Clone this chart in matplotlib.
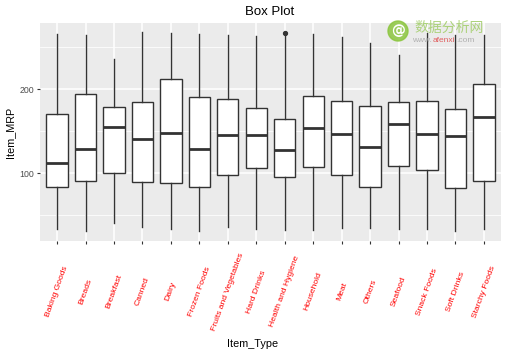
import matplotlib
matplotlib.use("Agg")
import matplotlib.pyplot as plt
from matplotlib.patches import Ellipse

categories = ["Baking Goods", "Breads", "Breakfast", "Canned", "Dairy", "Frozen Foods",
              "Fruits and Vegetables", "Hard Drinks", "Health and Hygiene", "Household",
              "Meat", "Others", "Seafood", "Snack Foods", "Soft Drinks", "Starchy Foods"]
whisker_low = [34.1, 31.7, 40.5, 36.5, 34.1, 31.7, 36.5, 34.1, 32.5, 32.5, 35.3, 35.3, 34.1, 34.1, 31.7, 34.1]
q1 = [83.3, 90.5, 100.0, 89.3, 88.5, 83.3, 98.0, 106.0, 95.2, 107.1, 98.0, 83.3, 108.3, 103.6, 82.1, 90.5]
median = [112.3, 129.4, 155.6, 141.3, 148.4, 129.4, 146.0, 146.0, 128.2, 154.4, 147.2, 131.7, 158.7, 147.2, 144.8, 167.5]
q3 = [171.0, 194.8, 178.6, 184.5, 212.7, 190.5, 188.1, 177.4, 164.3, 191.7, 185.7, 179.8, 184.5, 185.7, 176.2, 206.0]
whisker_high = [265.9, 264.7, 235.7, 267.9, 266.7, 265.9, 264.7, 262.7, 264.8, 265.9, 261.9, 254.8, 240.9, 266.7, 264.7, 263.9]
outliers = [[], [], [], [], [], [], [], [], [266.9], [], [], [], [], [], [], []]
y_ticks = [100, 200]
y_minor = [50, 150, 250]

stats = []
for i, c in enumerate(categories):
    stats.append(dict(label=c, whislo=whisker_low[i], q1=q1[i], med=median[i],
                      q3=q3[i], whishi=whisker_high[i], fliers=outliers[i]))

fig = plt.figure(figsize=(5.07, 3.56), dpi=100)
ax = fig.add_axes([40/507, 1-241/356, 461/507, 218/356])
ax.set_facecolor("#EBEBEB")
for s in ax.spines.values():
    s.set_visible(False)

n = len(categories)
pos = list(range(1, n + 1))
ax.set_xlim(0.4, n + 0.6)
ax.set_ylim(19.5, 278.7)

# grid
for y in y_minor:
    ax.axhline(y, color="white", lw=0.55, zorder=0)
for y in y_ticks:
    ax.axhline(y, color="white", lw=1.1, zorder=0)
for x in pos:
    ax.axvline(x, color="white", lw=1.1, zorder=0)

col = "#333333"
ax.bxp(stats, positions=pos, widths=0.75, patch_artist=True, showcaps=False,
       boxprops=dict(facecolor="white", edgecolor=col, linewidth=1.0),
       medianprops=dict(color=col, linewidth=2.0),
       whiskerprops=dict(color=col, linewidth=1.0),
       flierprops=dict(marker="o", markerfacecolor=col, markeredgecolor=col, markersize=2.8),
       zorder=2)

ax.set_xticks(pos)
ax.set_xticklabels(categories, rotation=70, ha="center", va="center",
                   color="red", fontsize=6.1, family="Liberation Sans")
ax.tick_params(axis="x", length=2.5, width=0.8, color="#333333", pad=34)
ax.set_yticks(y_ticks)
ax.set_yticklabels([str(v) for v in y_ticks], fontsize=6.3, color="#4D4D4D", family="Liberation Sans")
ax.tick_params(axis="y", length=2.5, width=0.8, color="#333333", pad=2)

ax.set_ylabel("Item_MRP", fontsize=7.8, family="Liberation Sans", labelpad=3)
fig.text(253/507, 1-344/356, "Item_Type", ha="center", va="center", fontsize=7.8, family="Liberation Sans")
fig.text(270/507, 1-12/356, "Box Plot", ha="center", va="center", fontsize=9.5, family="Liberation Sans")

# watermark
circ = Ellipse((398/507, 1-31/356), 20/507, 20/356, transform=fig.transFigure,
               color="#8CC63F", alpha=0.85, zorder=5)
fig.add_artist(circ)
fig.text(398/507, 1-31/356, "@", ha="center", va="center", fontsize=10, color="white",
         family="DejaVu Sans", fontweight="bold", zorder=6)
fig.text(449/507, 1-28/356, "数据分析网", ha="center", va="center", fontsize=10,
         color="#A5CF6E", family=["Noto Sans CJK SC", "DejaVu Sans"], alpha=0.9, zorder=6)

fig.canvas.draw()
r = fig.canvas.get_renderer()
x = 412.0
for txt, c in [("www.", "#B0B0B0"), ("afenxi", "#E06060"), (".com", "#B0B0B0")]:
    t = fig.text(x/507, 1-41/356, txt, ha="left", va="center", fontsize=6, color=c,
                 family="Liberation Sans", zorder=6)
    bb = t.get_window_extent(r)
    x = bb.x1 + 1.0

fig.savefig("out.png", dpi=100, facecolor="white")
